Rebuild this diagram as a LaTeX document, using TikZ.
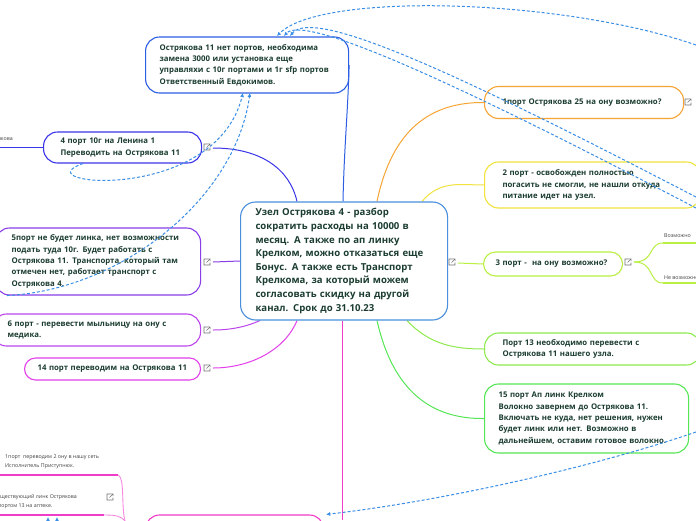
\documentclass[tikz,border=0pt]{standalone}
\usepackage{fontspec}
\setmainfont{Open Sans}
\usetikzlibrary{arrows.meta}
\definecolor{txt}{HTML}{1B3D2F}
\definecolor{cTop}{HTML}{2C5FE3}
\definecolor{cCen}{HTML}{4A8FDC}
\definecolor{cFour}{HTML}{3B35E8}
\definecolor{cFive}{HTML}{8A3EE8}
\definecolor{cSix}{HTML}{BC44EC}
\definecolor{cFtn}{HTML}{E23FEA}
\definecolor{cPink}{HTML}{F03CC8}
\definecolor{cOne}{HTML}{F6A535}
\definecolor{cTwo}{HTML}{F0E33E}
\definecolor{cThree}{HTML}{B9F042}
\definecolor{cThirt}{HTML}{8EEA4E}
\definecolor{cFift}{HTML}{55E655}
\definecolor{relblue}{HTML}{3A8EE6}
\pgfdeclarelayer{back}
\pgfdeclarelayer{bg}
\pgfsetlayers{back,bg,main}
\tikzset{
  mm/.style={draw, rounded corners=14pt, line width=1.1pt, fill=white, align=left,
    text=txt, font=\bfseries\fontsize{7.8}{11.3}\selectfont, anchor=west, inner ysep=0pt},
  conn/.style={line width=1pt},
  rel/.style={draw=relblue, line width=1pt, dash pattern=on 3pt off 2pt,
    -{Latex[length=4pt,width=4pt]}},
  tinytxt/.style={font=\fontsize{5.3}{9}\selectfont, text=black!75, inner sep=0pt, align=left},
  lnk/.pic={\draw[black!55,line width=0.55pt] (0.5,-3) -- (-3,-3) -- (-3,3) -- (3,3) -- (3,0.5)
     (-0.5,0.5) -- (3.2,-3.2) (0.8,-3.2) -- (3.2,-3.2) -- (3.2,-0.8);}
}
\begin{document}
\begin{tikzpicture}[x=1pt,y=-1pt]
\begin{pgfonlayer}{back}
\fill[white] (0,0) rectangle (696,520);
\end{pgfonlayer}
\useasboundingbox (0,0) rectangle (696,520);

% ---------- nodes ----------
\node[mm, draw=cCen, rounded corners=15pt, font=\bfseries\fontsize{9.6}{13.6}\selectfont,
  inner xsep=15pt, text width=177pt, minimum height=118pt] (c) at (240,261)
  {Узел Острякова 4 - разбор\\ сократить расходы на 10000 в\\ месяц. А также по ап линку\\ Крелком, можно отказаться еще\\ Бонус. А также есть Транспорт\\ Крелкома, за который можем\\ согласовать скидку на другой\\ канал. Срок до 31.10.23};

\node[mm, draw=cTop, inner xsep=14pt, text width=175pt, minimum height=56pt] (top) at (145,65)
  {Острякова 11 нет портов, необходима\\ замена 3000 или установка еще\\ управляхи с 10г портами и 1г sfp портов\\ Ответственный Евдокимов.};

\node[mm, draw=cFour, inner xsep=17pt, text width=124pt, minimum height=31pt] (four) at (43,147.5)
  {4 порт 10г на Ленина 1\\ Переводить на Острякова 11};

\node[mm, draw=cFive, inner xsep=16pt, text width=173pt, minimum height=67pt] (five) at (-5,261.5)
  {5порт не будет линка, нет возможности\\ подать туда 10г. Будет работать с\\ Острякова 11. Транспорта, который там\\ отмечен нет, работает транспорт с\\ Острякова 4.};

\node[mm, draw=cSix, inner xsep=15pt, text width=178pt, minimum height=32pt] (six) at (-8,330)
  {6 порт - перевести мыльницу на ону с\\ медика.};

\node[mm, draw=cFtn, rounded corners=11pt, inner xsep=13pt, text width=150pt, minimum height=22pt] (ftn) at (24,369)
  {14 порт переводим на Острякова 11};

\node[mm, draw=cOne, inner xsep=18pt, text width=163pt, minimum height=32pt] (one) at (484,102.5)
  {1порт Острякова 25 на ону возможно?};

\node[mm, draw=cTwo, inner xsep=18pt, text width=180pt, minimum height=46pt] (two) at (484,185)
  {2 порт - освобожден полностью\\ погасить не смогли, не нашли откуда\\ питание идет на узел.};

\node[mm, draw=cThree, rounded corners=12pt, inner xsep=12pt, text width=115pt, minimum height=24pt] (three) at (483,264)
  {3 порт -\ \ на ону возможно?};

\node[mm, draw=cThirt, inner xsep=18pt, text width=180pt, minimum height=32pt] (thirt) at (484,349)
  {Порт 13 необходимо перевести с\\ Острякова 11 нашего узла.};

\node[mm, draw=cFift, inner xsep=14pt, text width=176pt, minimum height=69pt] (fift) at (484,418.5)
  {15 порт Ап линк Крелком\\ Волокно завернем до Острякова 11.\\ Включать не куда, нет решения, нужен\\ будет линк или нет. Возможно в\\ дальнейшем, оставим готовое волокно.};

\node[mm, draw=cPink, minimum width=178pt, minimum height=30pt, inner xsep=0pt] (bot) at (145,530) {};

% small texts
\node[tinytxt, anchor=base east] (lt) at (13,140) {Острякова};
\node[tinytxt, anchor=base west] (pos) at (664,237) {Возможно};
\node[tinytxt, anchor=base west] (npos) at (664,279) {Не возможно};
\node[tinytxt, anchor=north west] (bl1) at (5,454) {1порт\ \ переводим 2 ону в нашу сеть\\ Исполнитель Приступнюк.};
\node[tinytxt, anchor=north west] (bl2) at (-6,494) {Существующий линк Острякова\\ с портом 13 на аптеке.};

% link icons
\pic at (207,147) {lnk};
\pic at (207,262) {lnk};
\pic at (207,330) {lnk};
\pic at (207,368) {lnk};
\pic at (452,262) {lnk};
\pic at (628,262) {lnk};
\pic at (688,102) {lnk};
\pic at (110,497) {lnk};

\coordinate (i4) at (213,148);
\coordinate (i5) at (213,262);
\coordinate (i6) at (213,330);
\coordinate (i14) at (213,368);
\coordinate (ic) at (458,263);
\coordinate (i3) at (634,262);
\coordinate (cb) at (342,520);
\coordinate (lft) at (0,147.5);
\coordinate (u1a) at (0,475);
\coordinate (u1b) at (118,475);
\coordinate (u2a) at (0,515);
\coordinate (u2b) at (104,515);
\coordinate (pb) at (125,521);
\coordinate (posa) at (663,243);
\coordinate (posb) at (696,243);
\coordinate (nposa) at (663,283);
\coordinate (nposb) at (696,283);

% ---------- connectors ----------
\begin{pgfonlayer}{bg}
\draw[conn, cTop] ([xshift=103pt]c.north west) .. controls (344,150) and (348,110) .. (top.east);
\draw[conn, cFour] ([xshift=57pt]c.north west) .. controls (290,170) and (262,148) .. (i4);
\draw[conn, cFive] (c.west) -- (i5);
\draw[conn, cSix] ([xshift=20pt]c.south west) .. controls (250,325) and (235,330) .. (i6);
\draw[conn, cFtn] ([xshift=57pt]c.south west) .. controls (285,350) and (250,368) .. (i14);
\draw[conn, cPink] ([xshift=102pt]c.south west) -- (cb);
\draw[conn, cOne] ([xshift=137pt]c.north west) .. controls (392,130) and (430,102) .. (one.west);
\draw[conn, cTwo] ([xshift=182pt]c.north west) .. controls (440,180) and (460,185) .. (two.west);
\draw[conn, cThree] (ic) -- (three.west);
\draw[conn, cThree] (i3) .. controls (655,262) and (648,243) .. (posa);
\draw[conn, cThree] (i3) .. controls (655,262) and (648,283) .. (nposa);
\draw[cThree, line width=1.6pt] (posa) -- (posb);
\draw[cThree, line width=1.6pt] (nposa) -- (nposb);
\draw[conn, cThirt] ([xshift=167pt]c.south west) .. controls (430,345) and (455,349) .. (thirt.west);
\draw[conn, cFift] ([xshift=137pt]c.south west) .. controls (395,400) and (440,419) .. (fift.west);
\draw[cFour, line width=1.3pt] (four.west) -- (lft);
\draw[cPink, line width=1.4pt] (u1a) -- (u1b);
\draw[cPink!60, line width=0.9pt] (u1b) .. controls (125,478) and (121,505) .. (pb);
\draw[cPink, line width=1.4pt] (u2a) -- (u2b);
\draw[cPink!60, line width=0.9pt] (u2b) .. controls (116,515) and (121,516) .. (pb);
\end{pgfonlayer}

% ---------- dashed relations ----------
\coordinate (rA) at (243,93);
\coordinate (rB) at (250,93);
\coordinate (rC) at (277,36);
\coordinate (rD) at (290,36);
\coordinate (rE) at (284,36);
\coordinate (fr1) at (696,45);
\coordinate (fr2) at (696,197);
\coordinate (fr3) at (696,208);
\coordinate (fr4) at (696,432);
\coordinate (bl3) at (48,530);
\coordinate (bl4) at (57,530);
\coordinate (bl3e) at (48,517);
\coordinate (bl4e) at (57,517);
\draw[rel] ([xshift=40pt]four.south west) .. controls (20,185) and (215,205) .. (rA);
\draw[rel] ([xshift=12pt]five.south west) .. controls (120,290) and (235,200) .. (rB);
\draw[rel] (fr1) .. controls (560,-2) and (320,-8) .. (rC);
\draw[rel] (fr2) .. controls (480,85) and (315,5) .. (rD);
\draw[rel] (fr3) .. controls (480,95) and (305,12) .. (rE);
\draw[rel] (fr4) .. controls (600,465) and (450,500) .. ([xshift=2pt]bot.north east);
\draw[rel] (bl3) -- (bl3e);
\draw[rel] (bl4) -- (bl4e);
\end{tikzpicture}
\end{document}
